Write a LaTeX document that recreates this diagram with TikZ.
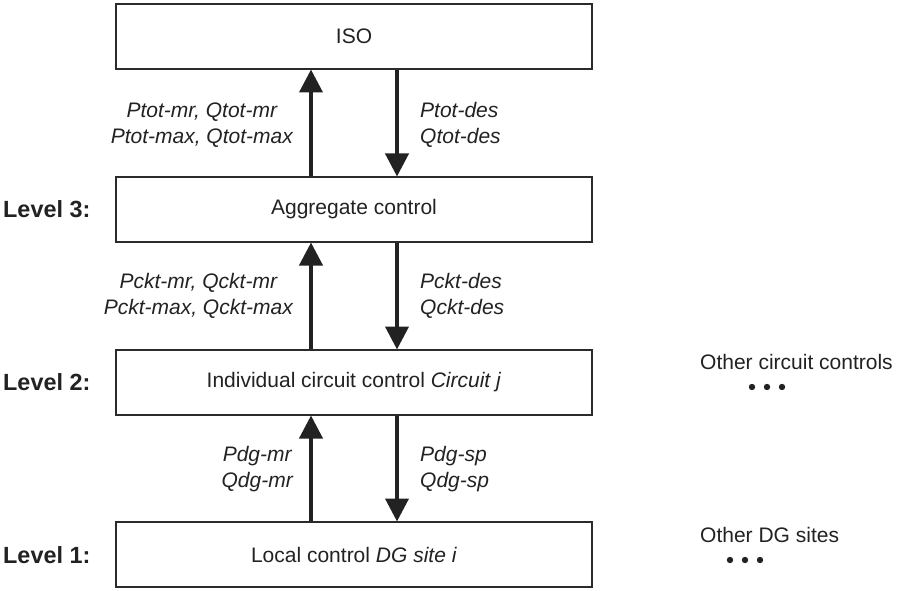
\documentclass[tikz,border=0pt]{standalone}
\usepackage{fontspec}
\setmainfont{Liberation Sans}
\usetikzlibrary{arrows.meta}
\definecolor{ink}{HTML}{222222}
\definecolor{frame}{HTML}{2B2B2B}
\begin{document}
\begin{tikzpicture}[x=1pt,y=-1pt,
  box/.style={draw=frame,line width=2pt,minimum width=476pt,minimum height=65pt,inner sep=0pt,text=ink,font=\fontsize{21}{26}\selectfont},
  flow/.style={draw=ink,line width=4pt,-{Triangle[width=23pt,length=23pt]},shorten >=-0.5pt},
  lab/.style={text=ink,align=center,inner sep=0pt,font=\fontsize{21}{26}\selectfont\itshape},
  rlab/.style={text=ink,align=left,inner sep=0pt,anchor=west,font=\fontsize{21}{26}\selectfont\itshape},
  lvl/.style={text=ink,inner sep=0pt,anchor=west,font=\fontsize{23.4}{28}\selectfont\bfseries},
  other/.style={text=ink,inner sep=0pt,anchor=west,font=\fontsize{21}{26}\selectfont},
  dotc/.style={fill=ink,draw=none}]
\useasboundingbox (0,0) rectangle (897,591);
\fill[white] (0,0) rectangle (897,591);

\node[box] (iso) at (354,36.5) {ISO};
\node[box] (agg) at (354,209.5) {Aggregate control};
\node[box] (circ) at (354,382.5) {Individual circuit control \textit{Circuit j}};
\node[box] (loc) at (354,554.5) {Local control \textit{DG site i}};

\coordinate (ux) at (311,0);
\coordinate (dx) at (397,0);

\draw[flow] (agg.north -| ux) -- (iso.south -| ux);
\draw[flow] (iso.south -| dx) -- (agg.north -| dx);
\draw[flow] (circ.north -| ux) -- (agg.south -| ux);
\draw[flow] (agg.south -| dx) -- (circ.north -| dx);
\draw[flow] (loc.north -| ux) -- (circ.south -| ux);
\draw[flow] (circ.south -| dx) -- (loc.north -| dx);

\node[lab,anchor=east] (l1) at (293,125) {Ptot-mr, Qtot-mr\\Ptot-max, Qtot-max};
\node[rlab] (r1) at (420,125) {Ptot-des\\Qtot-des};
\node[lab,anchor=east] (l2) at (293,296) {Pckt-mr, Qckt-mr\\Pckt-max, Qckt-max};
\node[rlab] (r2) at (420,296) {Pckt-des\\Qckt-des};
\node[lab,anchor=east] (l3) at (293,469) {Pdg-mr\\Qdg-mr};
\node[rlab] (r3) at (420,469) {Pdg-sp\\Qdg-sp};

\node[lvl] (lv3) at (3,209) {Level 3:};
\node[lvl] (lv2) at (3,382.5) {Level 2:};
\node[lvl] (lv1) at (3,555) {Level 1:};

\node[other] (oc) at (700,362) {Other circuit controls};
\fill[dotc] (752,387) circle (3.2) (767,387) circle (3.2) (782,387) circle (3.2);
\node[other] (od) at (700,535) {Other DG sites};
\fill[dotc] (730,560) circle (3.2) (745,560) circle (3.2) (760,560) circle (3.2);
\end{tikzpicture}
\end{document}
